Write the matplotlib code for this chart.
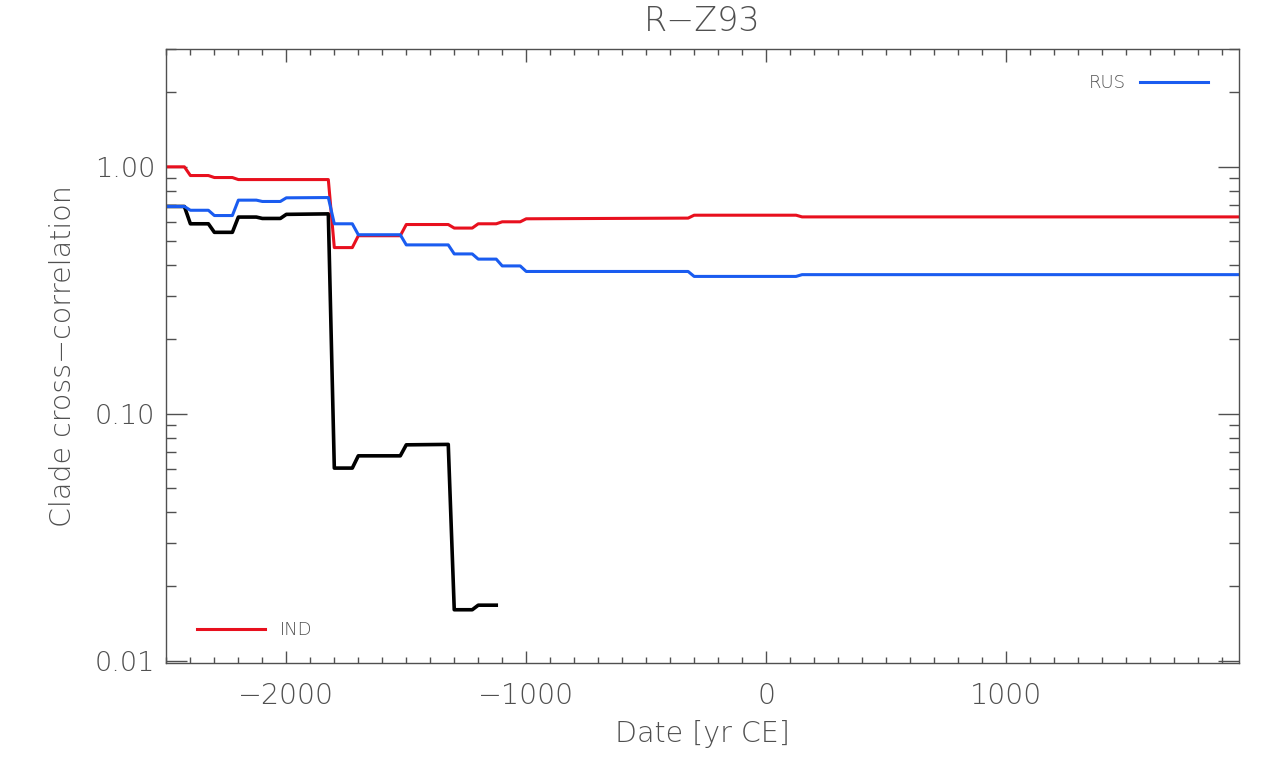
import matplotlib
matplotlib.use('Agg')
from matplotlib import pyplot as plt
from matplotlib import ticker

# step vertices (year, clade cross-correlation)
rus_years = [-2500, -2425, -2400, -2325, -2300, -2225, -2200, -2125, -2100, -2025, -2000,
             -1825, -1800, -1725, -1700, -1525, -1500, -1325, -1300, -1225, -1200,
             -1125, -1100, -1025, -1000, -325, -300, 125, 150, 1970]
rus_vals = [0.691, 0.691, 0.667, 0.667, 0.635, 0.635, 0.733, 0.733, 0.724, 0.724, 0.749,
            0.751, 0.588, 0.588, 0.531, 0.531, 0.483, 0.483, 0.444, 0.444, 0.423,
            0.423, 0.397, 0.397, 0.377, 0.377, 0.360, 0.360, 0.366, 0.366]

ind_years = [-2500, -2425, -2400, -2325, -2300, -2225, -2200, -1825, -1800, -1725, -1700,
             -1525, -1500, -1325, -1300, -1225, -1200, -1125, -1100, -1025, -1000,
             -325, -300, 125, 150, 1970]
ind_vals = [1.00, 1.00, 0.922, 0.922, 0.905, 0.905, 0.888, 0.888, 0.471, 0.471, 0.526,
            0.526, 0.584, 0.584, 0.565, 0.565, 0.588, 0.588, 0.599, 0.599, 0.616,
            0.620, 0.637, 0.637, 0.627, 0.627]

other_years = [-2500, -2425, -2400, -2325, -2300, -2225, -2200, -2125, -2100, -2025, -2000,
               -1825, -1800, -1725, -1700, -1525, -1500, -1325, -1300, -1225, -1200, -1125]
other_vals = [0.691, 0.691, 0.588, 0.588, 0.543, 0.543, 0.626, 0.626, 0.618, 0.618, 0.642,
              0.645, 0.0603, 0.0603, 0.0676, 0.0676, 0.0749, 0.0752, 0.0161, 0.0161, 0.0168, 0.0168]

TXT = '#505050'
plt.rcParams['font.family'] = ['DejaVu Sans']
plt.rcParams['font.weight'] = 'light'
plt.rcParams['axes.titleweight'] = 'light'
plt.rcParams['axes.labelweight'] = 'light'

fig = plt.figure(figsize=(12.8, 7.64), dpi=100)
ax = fig.add_axes([0.130, 0.1322, 0.8377, 0.8037])

ax.plot(other_years, other_vals, color='black', lw=2.6)
l_ind, = ax.plot(ind_years, ind_vals, color='#e8101e', lw=2.2)
l_rus, = ax.plot(rus_years, rus_vals, color='#1a5cf0', lw=2.2)

ax.set_yscale('log')
ax.set_xlim(-2500, 1970)
ax.set_ylim(0.0098, 3.0)

ax.xaxis.set_major_locator(ticker.MultipleLocator(1000))
ax.xaxis.set_minor_locator(ticker.MultipleLocator(100))
ax.xaxis.set_major_formatter(ticker.FuncFormatter(lambda v, p: '%d' % v if v >= 0 else '\u2212%d' % -v))
ax.yaxis.set_major_locator(ticker.LogLocator(base=10))
ax.yaxis.set_minor_locator(ticker.LogLocator(base=10, subs=range(2, 10)))
ax.yaxis.set_major_formatter(ticker.FormatStrFormatter('%.2f'))
ax.yaxis.set_minor_formatter(ticker.NullFormatter())

ax.tick_params(axis='both', which='both', direction='in', top=True, right=True,
               colors=TXT, width=1.0)
ax.tick_params(axis='x', which='major', length=9, pad=14, labelsize=20.5)
ax.tick_params(axis='x', which='minor', length=4.5)
ax.tick_params(axis='y', which='major', length=15, pad=8, labelsize=19.5)
ax.tick_params(axis='y', which='minor', length=7.5)
for s in ax.spines.values():
    s.set_color(TXT)
    s.set_linewidth(1.0)

ax.set_title('R\u2212Z93', fontsize=24, color=TXT, pad=13)
ax.set_xlabel('Date [yr CE]', fontsize=20.5, color=TXT, labelpad=7)
ax.set_ylabel('Clade cross\u2212correlation', fontsize=20.5, color=TXT, labelpad=13)

leg1 = ax.legend([l_rus], ['RUS'], loc='upper right', bbox_to_anchor=(0.987, 0.985),
                 markerfirst=False, frameon=False, fontsize=13, handlelength=3.8,
                 handletextpad=0.8, labelcolor=TXT)
ax.add_artist(leg1)
ax.legend([l_ind], ['IND'], loc='lower left', bbox_to_anchor=(0.013, 0.012),
          frameon=False, fontsize=13, handlelength=3.8, handletextpad=0.8, labelcolor=TXT)

fig.savefig('out.png', dpi=100)
